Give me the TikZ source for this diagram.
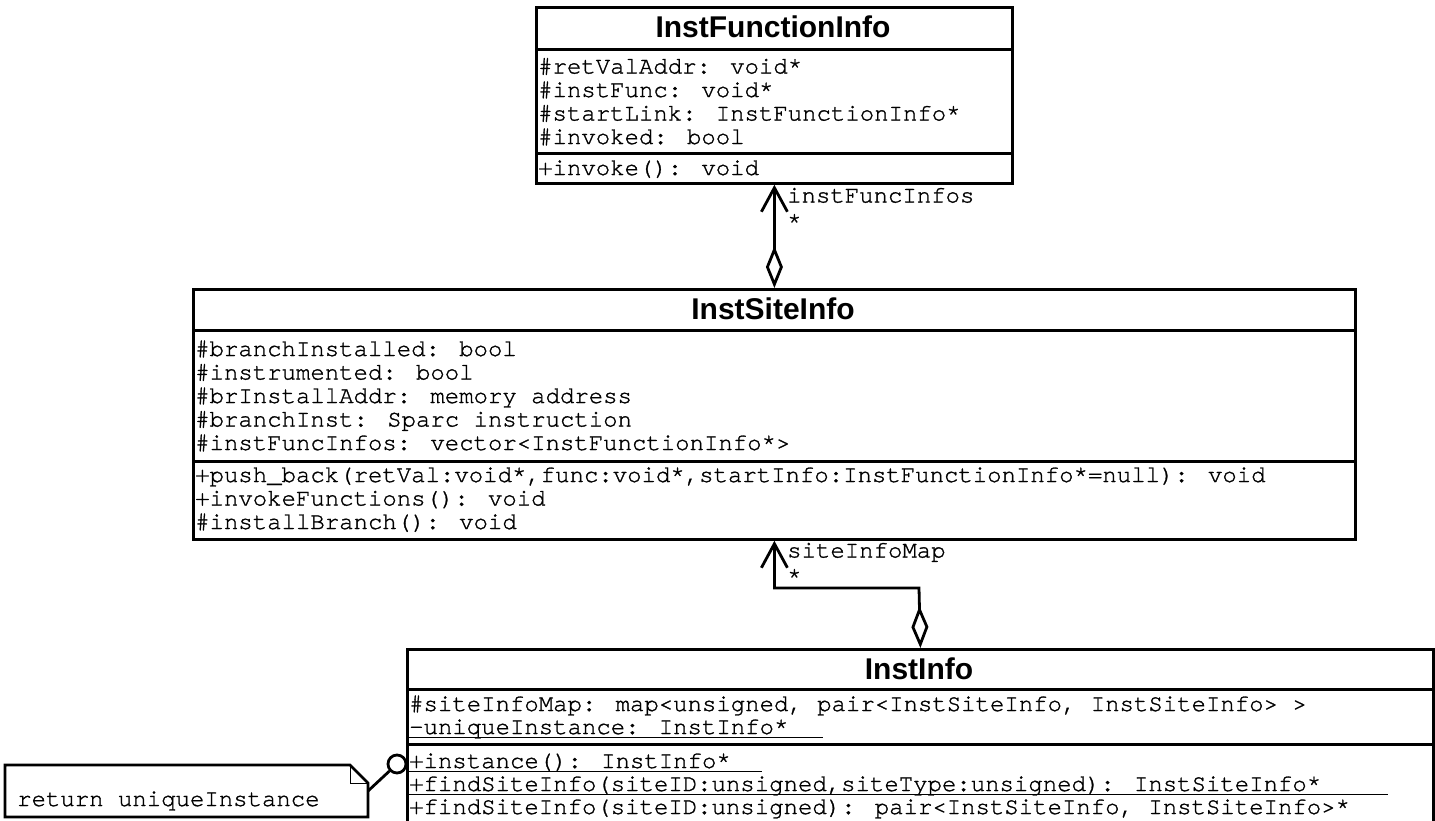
\documentclass[tikz,border=0pt]{standalone}
\usepackage{fontspec}
\setmainfont{Liberation Sans}
\newfontfamily\umlmono[Ligatures={NoCommon,NoRequired}, FakeBold=1.2]{TeX Gyre Cursor}
\usetikzlibrary{arrows.meta}
\begin{document}
\begin{tikzpicture}[x=1pt,y=-1pt,
  comp/.style={draw, line width=2.8pt, rectangle, inner sep=0pt, anchor=north west, fill=white},
  cname/.style={font=\fontsize{30pt}{30pt}\selectfont\bfseries, inner sep=0pt, anchor=base},
  mono/.style={font=\umlmono\fontsize{24pt}{24pt}\selectfont, inner sep=0pt, anchor=base west},
  assoc/.style={line width=2.8pt, {Diamond[open,length=42pt,width=17pt]}-{Straight Barb[length=24pt,width=26pt]}},
  uline/.style={line width=1.2pt},
  notebox/.style={line width=2.8pt, line join=miter},
  fold/.style={line width=1pt},
  link/.style={line width=2.8pt}
]
\useasboundingbox (0,0) rectangle (1435,820);
\fill[white] (0,0) rectangle (1435,820);

% ---------- InstFunctionInfo ----------
\node[comp, minimum width=476pt, minimum height=42pt] (ifiT) at (535,6) {};
\node[comp, minimum width=476pt, minimum height=104pt] (ifiA) at (535,48) {};
\node[comp, minimum width=476pt, minimum height=30pt] (ifiM) at (535,152) {};
\node[cname] (ifiName) at (773,37) {InstFunctionInfo};
\node[mono] (ifiA1) at (538,73.5) {\#retValAddr: void*};
\node[mono] (ifiA2) at (538,97) {\#instFunc: void*};
\node[mono] (ifiA3) at (538,120.5) {\#startLink: InstFunctionInfo*};
\node[mono] (ifiA4) at (538,144) {\#invoked: bool};
\node[mono] (ifiM1) at (538,175) {+invoke(): void};

% ---------- InstSiteInfo ----------
\node[comp, minimum width=1162pt, minimum height=41pt] (siteT) at (192,288) {};
\node[comp, minimum width=1162pt, minimum height=131pt] (siteA) at (192,329) {};
\node[comp, minimum width=1162pt, minimum height=78pt] (siteM) at (192,460) {};
\node[cname] (siteName) at (773,319) {InstSiteInfo};
\node[mono] (siteA1) at (195,356) {\#branchInstalled: bool};
\node[mono] (siteA2) at (195,379.5) {\#instrumented: bool};
\node[mono] (siteA3) at (195,403) {\#brInstallAddr: memory address};
\node[mono] (siteA4) at (195,426.5) {\#branchInst: Sparc instruction};
\node[mono] (siteA5) at (195,450) {\#instFuncInfos: vector<InstFunctionInfo*>};
\node[mono] (siteM1) at (195,482) {+push\_back(retVal:void*,func:void*,startInfo:InstFunctionInfo*=null): void};
\node[mono] (siteM2) at (195,505.5) {+invokeFunctions(): void};
\node[mono] (siteM3) at (195,529) {\#installBranch(): void};

% ---------- InstInfo ----------
\node[comp, minimum width=1026pt, minimum height=40pt] (iiT) at (406,648) {};
\node[comp, minimum width=1026pt, minimum height=55pt] (iiA) at (406,688) {};
\node[comp, minimum width=1026pt, minimum height=85pt] (iiM) at (406,743) {};
\node[cname] (iiName) at (919,679) {InstInfo};
\node[mono] (iiA1) at (409,711) {\#siteInfoMap: map<unsigned, pair<InstSiteInfo, InstSiteInfo> >};
\node[mono] (iiA2) at (409,734) {-uniqueInstance: InstInfo*};
\node[mono] (iiM1) at (409,768) {+instance(): InstInfo*};
\node[mono] (iiM2) at (409,791) {+findSiteInfo(siteID:unsigned,siteType:unsigned): InstSiteInfo*};
\node[mono] (iiM3) at (409,814) {+findSiteInfo(siteID:unsigned): pair<InstSiteInfo, InstSiteInfo>*};
\draw[uline] ([yshift=-3.5pt]iiA2.base west) -- ++(414,0);
\draw[uline] ([yshift=-3.5pt]iiM1.base west) -- ++(353,0);
\draw[uline] ([yshift=-3.5pt]iiM2.base west) -- ++(979,0);

% ---------- associations ----------
\draw[assoc] (siteT.north) -- (ifiM.south);
\node[mono] (lblA) at (787,202.5) {instFuncInfos};
\node[mono] (lblAm) at (787,228.5) {*};

\coordinate (bend) at (919,588);
\draw[assoc] (iiT.north) -- (bend) -| (siteM.south);
\node[mono] (lblB) at (787,557.5) {siteInfoMap};
\node[mono] (lblBm) at (787,583.5) {*};

% ---------- note ----------
\draw[notebox] (5,765) -- (350,765) -- (368,783) -- (368,817) -- (5,817) -- cycle;
\draw[fold] (350,765) -- (350,783) -- (368,783);
\node[mono] (noteText) at (17,806) {return uniqueInstance};
\node[draw, circle, line width=2.8pt, minimum size=18pt, inner sep=0pt, fill=white] (circ) at (397,764) {};
\coordinate (noteEnd) at (368,791);
\draw[link] (noteEnd) -- (circ);
\end{tikzpicture}
\end{document}
